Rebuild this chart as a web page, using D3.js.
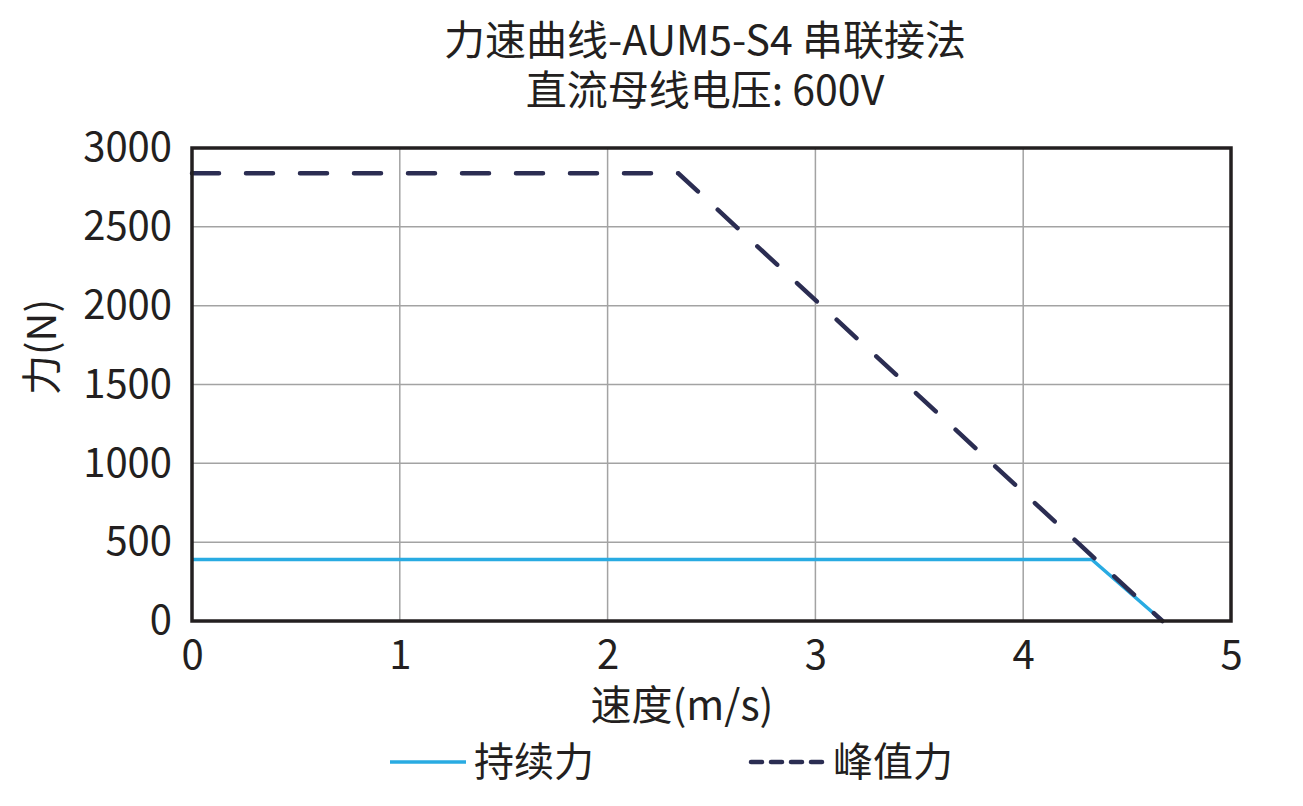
<!DOCTYPE html>
<html>
<head>
<meta charset="utf-8">
<script src="https://cdn.jsdelivr.net/npm/d3@7"></script>
<style>
  body { margin: 0; background: #fff; }
  text { font-family: "Noto Sans CJK SC", "Noto Sans", sans-serif; fill: #231f20; }
</style>
</head>
<body>
<svg id="chart" width="1303" height="806"></svg>
<script>
// data
var titleLines = ["力速曲线-AUM5-S4 串联接法", "直流母线电压: 600V"];
var xTicks = [0, 1, 2, 3, 4, 5];
var yTicks = [0, 500, 1000, 1500, 2000, 2500, 3000];
var contSpeed = [0, 4.33, 4.67];
var contForce = [390, 390, 0];
var peakSpeed = [0, 2.34, 4.67];
var peakForce = [2840, 2840, 0];
var seriesNames = ["持续力", "峰值力"];
var seriesColors = ["#29abe2", "#2b2d52"];

var svg = d3.select("#chart");
var margin = {top: 148, right: 72, bottom: 185, left: 192};
var W = 1303 - margin.left - margin.right;
var H = 806 - margin.top - margin.bottom;

var panel = svg.append("g")
    .attr("transform", "translate(" + margin.left + "," + margin.top + ")");

var xScale = d3.scaleLinear().domain([0, 5]).range([0, W]);
var yScale = d3.scaleLinear().domain([0, 3000]).range([H, 0]);

// grid
panel.selectAll(".vgrid").data(xTicks.slice(1, -1)).enter()
    .append("line")
    .attr("x1", function (d) { return xScale(d); })
    .attr("x2", function (d) { return xScale(d); })
    .attr("y1", 0).attr("y2", H)
    .attr("stroke", "#a3a3a3").attr("stroke-width", 1.5);
panel.selectAll(".hgrid").data(yTicks.slice(1, -1)).enter()
    .append("line")
    .attr("y1", function (d) { return yScale(d); })
    .attr("y2", function (d) { return yScale(d); })
    .attr("x1", 0).attr("x2", W)
    .attr("stroke", "#a3a3a3").attr("stroke-width", 1.5);

// axes (labels only, the frame is drawn below)
var xAxis = d3.axisBottom(xScale).tickValues(xTicks).tickFormat(d3.format("d"))
    .tickSize(0).tickPadding(20);
var gx = panel.append("g").attr("transform", "translate(0," + H + ")").call(xAxis);
gx.select(".domain").remove();
gx.selectAll("text").style("font-size", "40px").attr("fill", "#231f20")
    .attr("font-family", "Noto Sans CJK SC");

var yAxis = d3.axisLeft(yScale).tickValues(yTicks).tickFormat(d3.format("d"))
    .tickSize(0).tickPadding(20);
var gy = panel.append("g").call(yAxis);
gy.select(".domain").remove();
gy.selectAll("text").style("font-size", "40px").attr("fill", "#231f20")
    .attr("font-family", "Noto Sans CJK SC");

// lines
var line = d3.line()
    .x(function (d) { return xScale(d[0]); })
    .y(function (d) { return yScale(d[1]); });

panel.append("path")
    .datum(d3.zip(contSpeed, contForce))
    .attr("d", line)
    .attr("fill", "none")
    .attr("stroke", seriesColors[0])
    .attr("stroke-width", 3.5);

panel.append("path")
    .datum(d3.zip(peakSpeed, peakForce))
    .attr("d", line)
    .attr("fill", "none")
    .attr("stroke", seriesColors[1])
    .attr("stroke-width", 4.5)
    .attr("stroke-linecap", "round")
    .attr("stroke-dasharray", "27,27");

// frame
panel.append("rect")
    .attr("x", 0).attr("y", 0).attr("width", W).attr("height", H)
    .attr("fill", "none").attr("stroke", "#231f20").attr("stroke-width", 3.5);

// title
svg.selectAll(".title").data(titleLines).enter()
    .append("text")
    .attr("x", 705)
    .attr("y", function (d, i) { return 55 + i * 50; })
    .attr("text-anchor", "middle")
    .style("font-size", "41px")
    .text(function (d) { return d; });

// axis titles
svg.append("text")
    .attr("x", 682).attr("y", 720)
    .attr("text-anchor", "middle")
    .style("font-size", "41px")
    .text("速度(m/s)");

svg.append("text")
    .attr("transform", "translate(56,347) rotate(-90)")
    .attr("text-anchor", "middle")
    .style("font-size", "40px")
    .text("力(N)");

// legend
var legendX = [390, 749];
var legendY = 762;
for (var i = 0; i < 2; i++) {
    var ln = svg.append("line")
        .attr("x1", legendX[i]).attr("x2", legendX[i] + 76)
        .attr("y1", legendY).attr("y2", legendY)
        .attr("stroke", seriesColors[i])
        .attr("stroke-width", i == 0 ? 3.5 : 4.5);
    if (i == 1) {
        ln.attr("stroke-linecap", "round").attr("stroke-dasharray", "11,9")
            .attr("x1", legendX[i] + 2).attr("x2", legendX[i] + 76);
    }
    svg.append("text")
        .attr("x", legendX[i] + 84).attr("y", legendY + 14)
        .style("font-size", "40px")
        .text(seriesNames[i]);
}
</script>
</body>
</html>
